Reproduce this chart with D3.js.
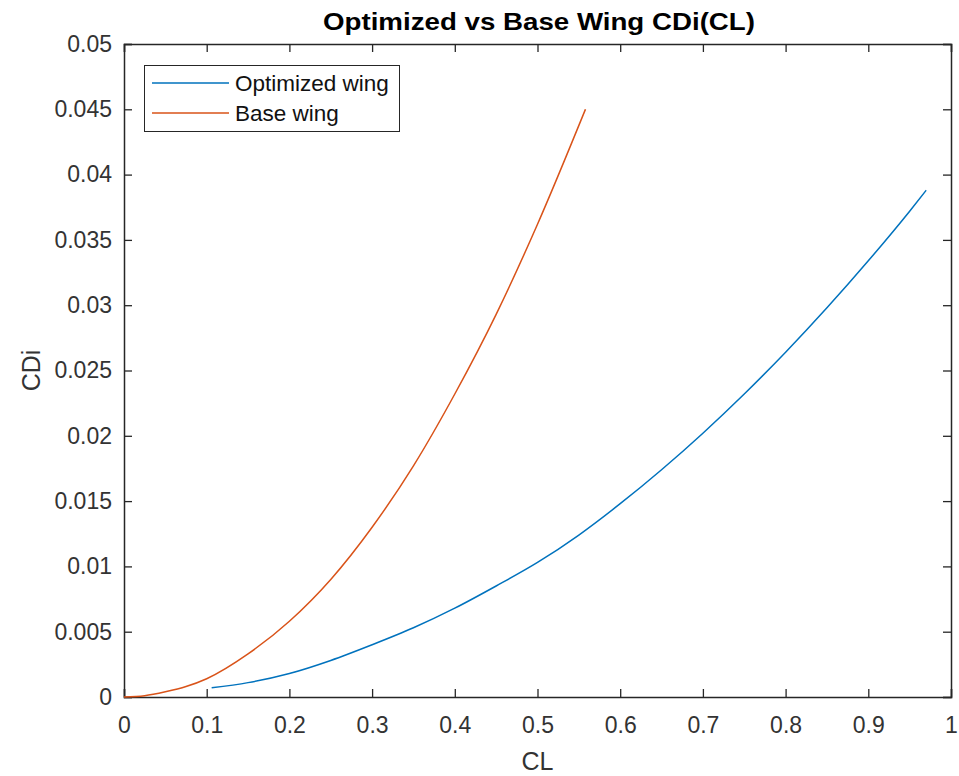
<!DOCTYPE html>
<html>
<head>
<meta charset="utf-8">
<script src="https://cdn.jsdelivr.net/npm/d3@7"></script>
<style>
  html, body { margin: 0; padding: 0; background: #fff; }
  svg { display: block; }
  text { font-family: "Liberation Sans", Arial, Helvetica, sans-serif; }
</style>
</head>
<body>
<svg id="chart" width="959" height="776"></svg>
<script>
// Induced drag coefficient vs lift coefficient
const optCL  = [0.106, 0.15, 0.2, 0.25, 0.3, 0.35, 0.4, 0.45, 0.5, 0.55, 0.6, 0.65, 0.7, 0.75, 0.8, 0.85, 0.9, 0.95, 0.970];
const optCDi = [0.0007, 0.0011, 0.0018, 0.0028, 0.0040, 0.0053, 0.0068, 0.0085, 0.0103, 0.0124, 0.0148, 0.0174, 0.0202, 0.0232, 0.0264, 0.0298, 0.0334, 0.0372, 0.0388];

const baseCL  = [0, 0.025, 0.05, 0.075, 0.1, 0.15, 0.2, 0.25, 0.3, 0.35, 0.4, 0.45, 0.5, 0.558];
const baseCDi = [0, 0.0001, 0.0004, 0.0008, 0.0014, 0.0033, 0.0058, 0.0090, 0.0130, 0.0177, 0.0232, 0.0293, 0.0362, 0.0450];

const xTicks = [0, 0.1, 0.2, 0.3, 0.4, 0.5, 0.6, 0.7, 0.8, 0.9, 1];
const yTicks = [0, 0.005, 0.01, 0.015, 0.02, 0.025, 0.03, 0.035, 0.04, 0.045, 0.05];

const seriesNames  = ["Optimized wing", "Base wing"];
const seriesColors = ["#0072BD", "#D95319"];

const plotLeft = 124, plotRight = 951, plotTop = 44, plotBottom = 697;
const axisColor = "#262626";
const tickLen = 8;

const svg = d3.select("#chart");
const x = d3.scaleLinear().domain([0, 1]).range([plotLeft, plotRight]);
const y = d3.scaleLinear().domain([0, 0.05]).range([plotBottom, plotTop]);

const fmt = v => String(+v.toFixed(3));

// Axes: ticks point inward on all four sides (boxed axes)
const gx = svg.append("g").attr("transform", `translate(0,${plotBottom})`)
  .call(d3.axisBottom(x).tickValues(xTicks).tickFormat(fmt).tickSize(-tickLen).tickPadding(20));
const gxTop = svg.append("g").attr("transform", `translate(0,${plotTop})`)
  .call(d3.axisTop(x).tickValues(xTicks).tickFormat("").tickSize(-tickLen));
const gy = svg.append("g").attr("transform", `translate(${plotLeft},0)`)
  .call(d3.axisLeft(y).tickValues(yTicks).tickFormat(fmt).tickSize(-tickLen).tickPadding(12));
const gyRight = svg.append("g").attr("transform", `translate(${plotRight},0)`)
  .call(d3.axisRight(y).tickValues(yTicks).tickFormat("").tickSize(-tickLen));

[gx, gxTop, gy, gyRight].forEach(g => {
  g.select(".domain").attr("stroke", axisColor).attr("stroke-width", 1.5);
  g.selectAll(".tick line").attr("stroke", axisColor).attr("stroke-width", 1.3);
  g.selectAll(".tick text").attr("fill", "#333")
    .style("font-family", "'Liberation Sans', Arial, sans-serif").style("font-size", "23px");
});

// Curves
const line = d3.line().x(d => x(d[0])).y(d => y(d[1])).curve(d3.curveMonotoneX);
const seriesData = [
  d3.zip(optCL, optCDi),
  d3.zip(baseCL, baseCDi)
];
seriesData.forEach((pts, i) => {
  svg.append("path").datum(pts)
    .attr("d", line)
    .attr("fill", "none")
    .attr("stroke", seriesColors[i])
    .attr("stroke-width", 1.5);
});

// Title and axis labels
svg.append("text").attr("x", 539).attr("y", 30)
  .attr("text-anchor", "middle").attr("font-weight", "bold")
  .attr("font-size", 24).attr("fill", "#000")
  .attr("textLength", 432).attr("lengthAdjust", "spacingAndGlyphs")
  .text("Optimized vs Base Wing CDi(CL)");

svg.append("text").attr("x", (plotLeft + plotRight) / 2).attr("y", 770)
  .attr("text-anchor", "middle").attr("font-size", 25).attr("fill", "#333")
  .text("CL");

svg.append("text").attr("transform", `translate(40,${(plotTop + plotBottom) / 2}) rotate(-90)`)
  .attr("text-anchor", "middle").attr("font-size", 25).attr("fill", "#333")
  .text("CDi");

// Legend
const legend = svg.append("g");
legend.append("rect").attr("x", 144.5).attr("y", 65.5).attr("width", 255).attr("height", 66)
  .attr("fill", "#fff").attr("stroke", axisColor).attr("stroke-width", 1);
seriesNames.forEach((name, i) => {
  const ly = 83 + i * 30;
  legend.append("line").attr("x1", 152).attr("x2", 229).attr("y1", ly).attr("y2", ly)
    .attr("stroke", seriesColors[i]).attr("stroke-width", 1.5);
  legend.append("text").attr("x", 235).attr("y", ly + 8)
    .attr("font-size", 22.5).attr("fill", "#111").text(name);
});
</script>
</body>
</html>
